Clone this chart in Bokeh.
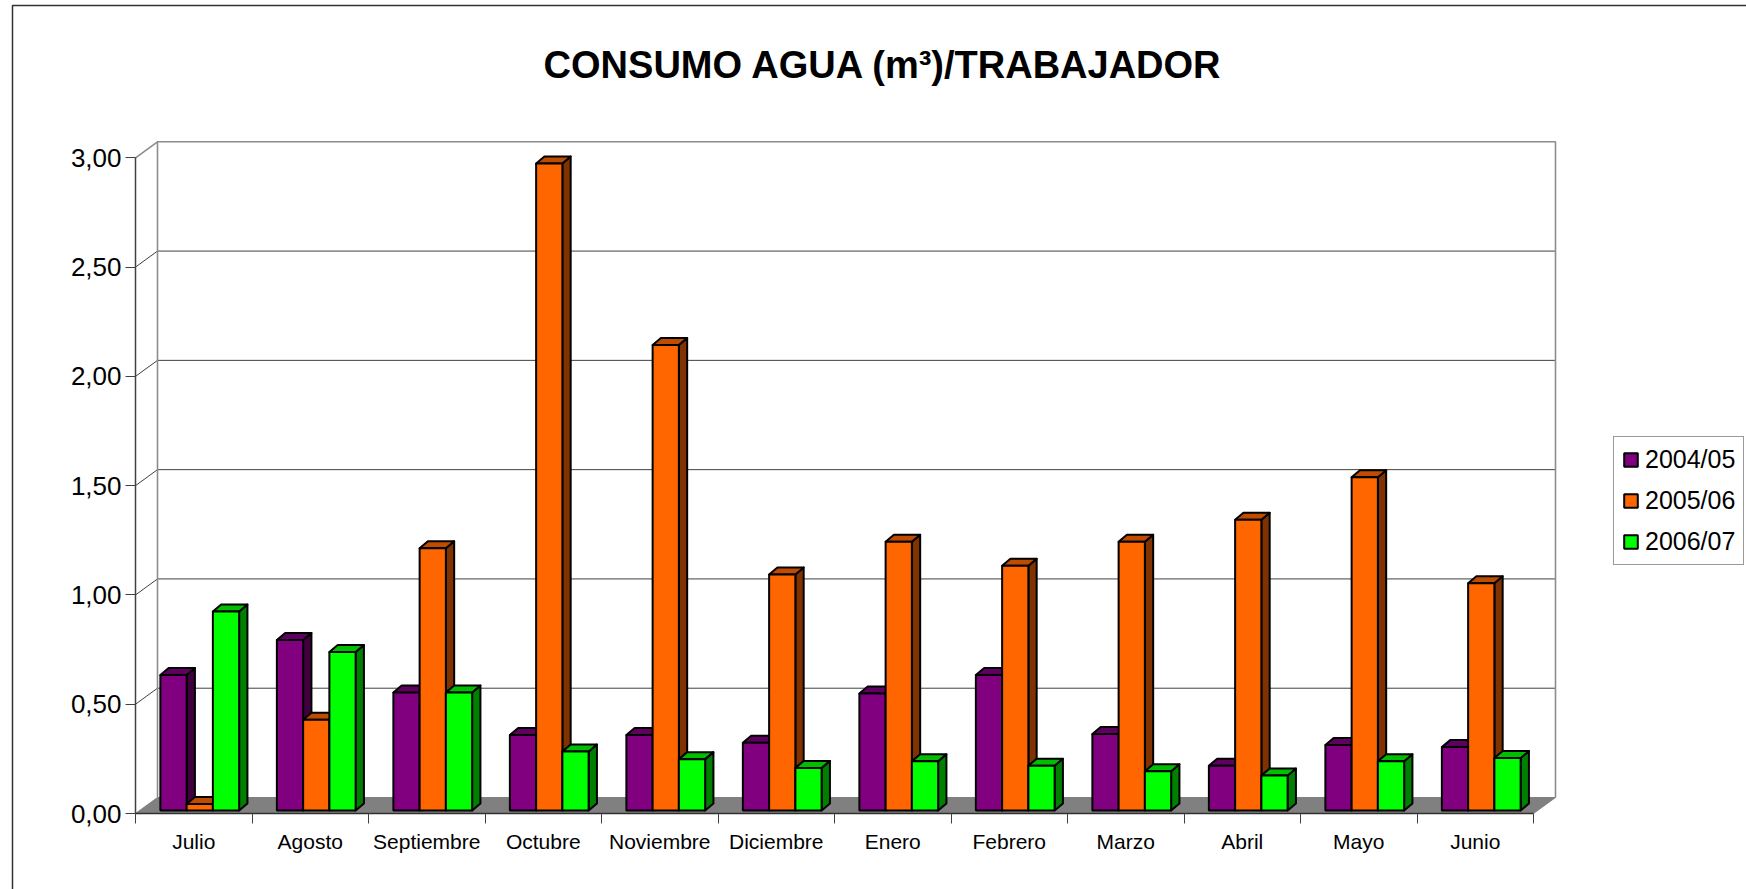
from bokeh.plotting import figure
from bokeh.models import LinearAxis, FixedTicker, Legend, LegendItem
from bokeh.embed import file_html
from bokeh.resources import INLINE

TITLE = "CONSUMO AGUA (m³)/TRABAJADOR"
months = ["Julio", "Agosto", "Septiembre", "Octubre", "Noviembre", "Diciembre",
          "Enero", "Febrero", "Marzo", "Abril", "Mayo", "Junio"]
y_ticks = [0.0, 0.5, 1.0, 1.5, 2.0, 2.5, 3.0]
y_labels = ["0,00", "0,50", "1,00", "1,50", "2,00", "2,50", "3,00"]
s0405 = [0.62, 0.78, 0.54, 0.345, 0.345, 0.31, 0.535, 0.62, 0.35, 0.205, 0.30, 0.29]
s0506 = [0.03, 0.415, 1.20, 2.96, 2.13, 1.08, 1.23, 1.12, 1.23, 1.33, 1.525, 1.04]
s0607 = [0.91, 0.725, 0.54, 0.27, 0.235, 0.195, 0.225, 0.205, 0.18, 0.16, 0.225, 0.24]
series = [("2004/05", s0405, "#800080", "#600060", "#400040"),
          ("2005/06", s0506, "#FF6600", "#BF4C00", "#803300"),
          ("2006/07", s0607, "#00FF00", "#00BF00", "#008000")]

W, H = 1746, 889
X0, Y0 = 135.0, 813.0        # pixel of category 0 / value 0
UX, UY = 116.5, 218.57       # pixels per category / per value unit

def px(x): return (x - X0) / UX
def py(y): return (Y0 - y) / UY

p = figure(width=W, height=H, output_backend="svg", toolbar_location=None,
           x_range=(px(0), px(W)), y_range=(py(H), py(0)),
           min_border=0, min_border_left=0, min_border_right=0, min_border_top=0, min_border_bottom=0,
           x_axis_type=None, y_axis_type=None, outline_line_color=None)
p.grid.visible = False

# outer chart border (left and top edges only)
p.line([px(12), px(12), px(W)], [py(H), py(5), py(5)], line_color="#333333", line_width=1.5)

DX, DY = 22 / UX, 16 / UY    # depth of the chart box
# floor
p.patch([0, DX, 12 + DX, 12], [0, DY, DY, 0], fill_color="#808080", line_color="#808080", line_width=1)
# walls
for v in y_ticks[:-1]:
    if v > 0:
        p.line([0, DX, 12 + DX], [v, v + DY, v + DY], line_color="#404040", line_width=1)
p.line([0, DX, 12 + DX, 12 + DX], [3, 3 + DY, 3 + DY, DY], line_color="#8c8c8c", line_width=1.6)
p.line([DX, DX], [DY, 3 + DY], line_color="#8c8c8c", line_width=1.6)

# bars
BW = 26.25 / UX
OX, OY = 6 / UX, 3 / UY       # bar front offset from the front axis
BDX, BDY = 8.3 / UX, 7 / UY   # bar depth
items = []
for k, (name, vals, front, top, side) in enumerate(series):
    lefts = [i + (116.5 - 3 * 26.25) / 2 / UX + OX + k * BW for i in range(12)]
    side_xs = [[l + BW, l + BW + BDX, l + BW + BDX, l + BW] for l in lefts]
    side_ys = [[OY, OY + BDY, OY + BDY + v, OY + v] for v in vals]
    top_xs = [[l, l + BDX, l + BW + BDX, l + BW] for l in lefts]
    top_ys = [[OY + v, OY + v + BDY, OY + v + BDY, OY + v] for v in vals]
    p.patches(side_xs, side_ys, fill_color=side, line_color="black", line_width=2, line_join="round")
    p.patches(top_xs, top_ys, fill_color=top, line_color="black", line_width=2, line_join="round")
    r = p.quad(left=lefts, right=[l + BW for l in lefts], bottom=[OY] * 12,
               top=[OY + v for v in vals], fill_color=front, line_color="black", line_width=2)
    items.append(LegendItem(label=name, renderers=[r]))

# axes
ya = LinearAxis(fixed_location=0, ticker=FixedTicker(ticks=y_ticks),
                major_label_overrides={v: s for v, s in zip(y_ticks, y_labels)},
                major_label_text_font="Liberation Sans", major_label_text_font_size="26px",
                major_label_text_color="black", major_label_standoff=4,
                axis_line_color="#404040", axis_line_width=1.5,
                major_tick_line_color="#404040", major_tick_in=0, major_tick_out=10,
                minor_tick_line_color=None, bounds=(0, 3))
p.add_layout(ya, "left")
centers = [i + 0.5 for i in range(12)]
xa = LinearAxis(fixed_location=0,
                ticker=FixedTicker(ticks=centers, minor_ticks=list(range(13))),
                major_label_overrides={c: m for c, m in zip(centers, months)},
                major_label_text_font="Liberation Sans", major_label_text_font_size="21px",
                major_label_text_color="black", major_label_standoff=6,
                axis_line_color="#303030", axis_line_width=1.5,
                major_tick_line_color=None, major_tick_in=0, major_tick_out=10,
                minor_tick_line_color="#404040", minor_tick_in=0, minor_tick_out=10, bounds=(0, 12))
p.add_layout(xa, "below")

# title
p.text([px(883)], [py(64)], text=[TITLE], text_font={"value": "Liberation Sans"}, text_font_style="bold",
       text_font_size="38px", text_align="center", text_baseline="middle", text_color="black")

legend = Legend(items=items, location=(1613, 889 - 565), orientation="vertical",
                border_line_color="#333333", border_line_width=1, background_fill_color="white",
                background_fill_alpha=1, label_text_font="Liberation Sans", label_text_font_size="25px",
                label_text_color="black", glyph_width=17, glyph_height=17, label_standoff=6,
                spacing=12, padding=8, margin=0, label_height=25)
p.add_layout(legend, "center")

open("out.html", "w").write(file_html(p, INLINE))
